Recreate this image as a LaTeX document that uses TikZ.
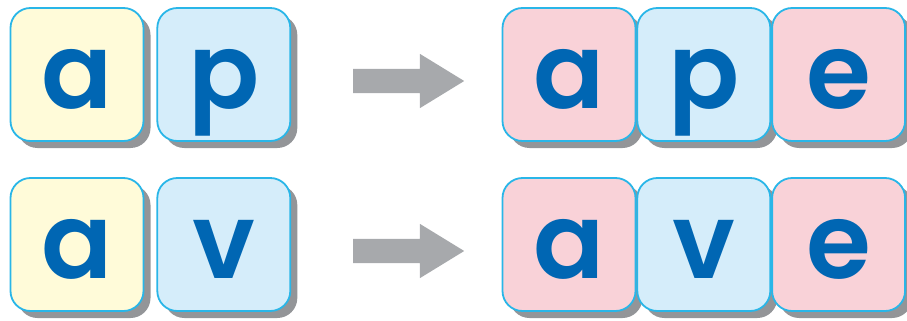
\documentclass[tikz,border=0pt]{standalone}
\usepackage{fontspec}
\newfontfamily\tilefont{Poppins SemiBold}
\usepackage{xcolor}
\usetikzlibrary{positioning}
\usetikzlibrary{shadows,shapes.arrows}
\definecolor{tileline}{HTML}{29B6E8}
\definecolor{tileyellow}{HTML}{FFFBD9}
\definecolor{tileblue}{HTML}{D5EDFA}
\definecolor{tilepink}{HTML}{F9D2D8}
\definecolor{letterblue}{HTML}{0066B3}
\definecolor{shadowgray}{HTML}{939598}
\definecolor{arrowgray}{HTML}{A7A9AC}
\tikzset{gray arrow/.style = {single arrow, fill=arrowgray, draw=none, inner sep=12pt,
    minimum height=111pt, single arrow head extend=15pt, single arrow tip angle=63, anchor=tail}}

\begin{document}
\begin{tikzpicture}[x=1pt,y=-1pt,node distance=12pt,
    tile/.style={rectangle,draw=tileline,line width=1.8pt,rounded corners=20pt,minimum size=133pt,inner sep=0pt,
      text height=67pt,text depth=0pt,text=letterblue,font=\tilefont\fontsize{105}{105}\selectfont,
      drop shadow={shadow xshift=7pt,shadow yshift=-7pt,fill=shadowgray,opacity=1}}]
    \useasboundingbox (0,0) rectangle (907,321);

    % top row
    \node[tile,fill=tileyellow] (a1) at (77,74.5) {a};
    \node[tile,fill=tileblue] (p1) [right=of a1] {p};
    \node[gray arrow] (arr1) at (353,81) {};
    \node[tile,fill=tilepink] (a2) at (569,74.5) {a};
    \node[tile,fill=tileblue] (p2) [right=0pt of a2] {p};
    \node[tile,fill=tilepink] (e2) [right=0pt of p2] {e};

    % bottom row
    \node[tile,fill=tileyellow] (a3) at (77,244.5) {a};
    \node[tile,fill=tileblue] (v3) [right=of a3] {v};
    \node[gray arrow] (arr2) at (353,251) {};
    \node[tile,fill=tilepink] (a4) at (569,244.5) {a};
    \node[tile,fill=tileblue] (v4) [right=0pt of a4] {v};
    \node[tile,fill=tilepink] (e4) [right=0pt of v4] {e};
\end{tikzpicture}
\end{document}
